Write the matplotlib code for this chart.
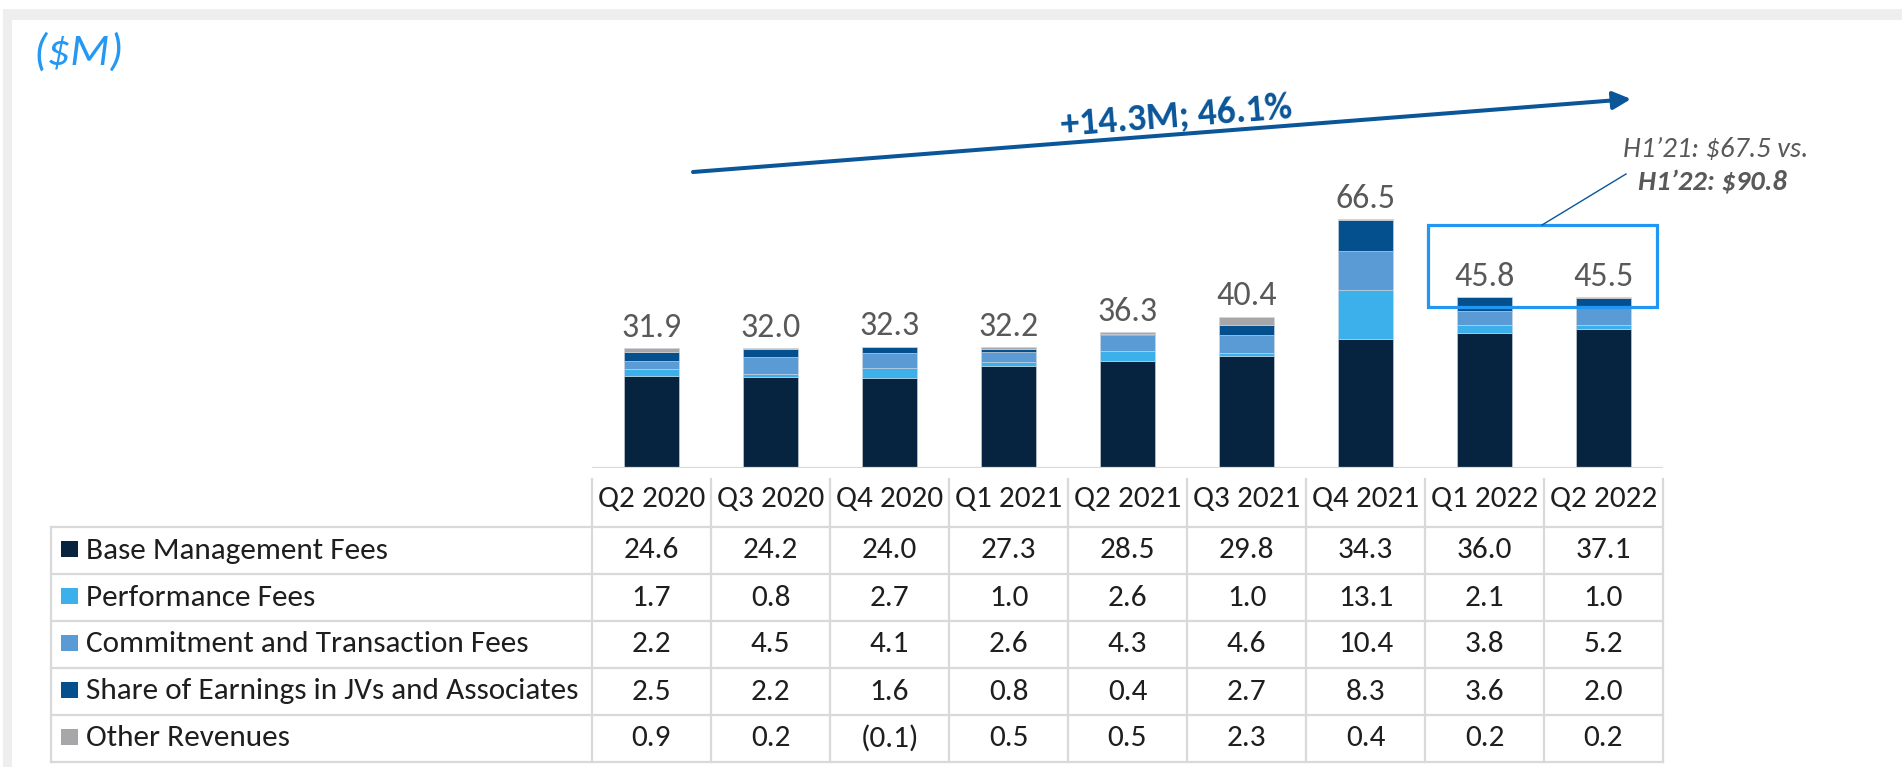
import matplotlib
matplotlib.use("Agg")
import matplotlib.pyplot as plt
from matplotlib.patches import Rectangle, FancyArrowPatch
import numpy as np

plt.rcParams['font.family'] = ['Carlito', 'DejaVu Sans']

# data
quarters = ["Q2 2020", "Q3 2020", "Q4 2020", "Q1 2021", "Q2 2021",
            "Q3 2021", "Q4 2021", "Q1 2022", "Q2 2022"]
series_names = ["Base Management Fees", "Performance Fees",
                "Commitment and Transaction Fees",
                "Share of Earnings in JVs and Associates", "Other Revenues"]
base_fees = [24.6, 24.2, 24.0, 27.3, 28.5, 29.8, 34.3, 36.0, 37.1]
perf_fees = [1.7, 0.8, 2.7, 1.0, 2.6, 1.0, 13.1, 2.1, 1.0]
commit_fees = [2.2, 4.5, 4.1, 2.6, 4.3, 4.6, 10.4, 3.8, 5.2]
jv_share = [2.5, 2.2, 1.6, 0.8, 0.4, 2.7, 8.3, 3.6, 2.0]
other_rev = [0.9, 0.2, -0.1, 0.5, 0.5, 2.3, 0.4, 0.2, 0.2]
totals = [31.9, 32.0, 32.3, 32.2, 36.3, 40.4, 66.5, 45.8, 45.5]
growth_label = "+14.3M; 46.1%"
h1_prev = "H1\u201921: \\$67.5 vs."
h1_curr = "H1\u201922: \\$90.8"

colors = ["#06243F", "#3BB0EA", "#5B9BD5", "#04508F", "#A7A7AA"]
series = [base_fees, perf_fees, commit_fees, jv_share, other_rev]

W, H = 1902, 767
fig = plt.figure(figsize=(W / 100, H / 100), dpi=100)

# background layer in pixel coords
bg = fig.add_axes([0, 0, 1, 1])
bg.set_xlim(0, W)
bg.set_ylim(H, 0)
bg.axis("off")
frame = "#EEEEEE"
bg.add_patch(Rectangle((3, 9), W - 3, 11, color=frame, lw=0))
bg.add_patch(Rectangle((3, 9), 9, H - 9, color=frame, lw=0))
bg.text(33, 65, "(\\$M)", fontsize=33, style="italic", color="#2598F3", va="baseline")

# table
grid_c = "#D9D9D9"
txt_c = "#1E1E1E"
col0 = 592
col_w = 119
n = len(quarters)
row_y = [527, 574, 621, 668, 715, 762]
bg.plot([col0, col0], [479, row_y[-1]], color=grid_c, lw=1.6)
for i in range(n):
    x = col0 + col_w * (i + 1)
    bg.plot([x, x], [479, row_y[-1]], color=grid_c, lw=1.6)
    bg.text(col0 + col_w * (i + 0.5), 507, quarters[i], fontsize=22.5,
            color=txt_c, ha="center", va="baseline")
for y in row_y:
    bg.plot([51, col0 + col_w * n], [y, y], color=grid_c, lw=1.6)
bg.plot([51, 51], [row_y[0], row_y[-1]], color=grid_c, lw=1.6)

for r, (name, vals, c) in enumerate(zip(series_names, series, colors)):
    yc = (row_y[r] + row_y[r + 1]) / 2
    bg.add_patch(Rectangle((61, yc - 10), 17, 16, color=c, lw=0))
    bg.text(86, yc + 8, name, fontsize=22.5, color=txt_c, va="baseline")
    for i, v in enumerate(vals):
        s = "({:.1f})".format(-v) if v < 0 else "{:.1f}".format(v)
        bg.text(col0 + col_w * (i + 0.5), yc + 8, s, fontsize=22.5,
                color=txt_c, ha="center", va="baseline")

# bars
ax = fig.add_axes([col0 / W, (H - 468) / H, col_w * n / W, 448 / H])
ax.patch.set_alpha(0)
x = np.arange(n)
bottom = np.zeros(n)
for vals, c in zip(series, colors):
    h = np.clip(vals, 0, None)
    ax.bar(x, h, width=0.47, bottom=bottom, color=c, edgecolor="#D0D6DD", linewidth=0.4)
    bottom += h
for i in range(n):
    ax.annotate("{:.1f}".format(totals[i]), (x[i], bottom[i]), xytext=(0, 8),
                textcoords="offset points", ha="center", va="baseline",
                fontsize=24.5, color="#595959")
ax.set_xlim(-0.5, n - 0.5)
ax.set_ylim(0, 448 / 3.749)
ax.axhline(0, color=grid_c, lw=1.6)
ax.axis("off")

# foreground annotations
fg = fig.add_axes([0, 0, 1, 1])
fg.patch.set_alpha(0)
fg.set_xlim(0, W)
fg.set_ylim(H, 0)
fg.axis("off")
arrow_c = "#0A5699"
fg.add_patch(FancyArrowPatch((693, 172), (1631, 99),
                             arrowstyle="-|>,head_length=0.6,head_width=0.3",
                             mutation_scale=18, color=arrow_c, lw=2.9,
                             shrinkA=0, shrinkB=0))
ang = np.degrees(np.arctan2(172 - 99, 1631 - 693))
fg.text(1177, 127, growth_label, fontsize=27, fontweight="bold", color=arrow_c,
        rotation=ang, rotation_mode="anchor", ha="center", va="baseline")

fg.add_patch(Rectangle((1428, 225), 229, 82, fill=False, edgecolor="#2196F3", lw=2.3))
fg.plot([1542, 1626], [225, 174], color=arrow_c, lw=1.0)
fg.text(1716, 157, h1_prev, fontsize=20.5, style="italic", color="#595959",
        ha="center", va="baseline")
fg.text(1712, 191, h1_curr, fontsize=20.5, style="italic", fontweight="bold",
        color="#595959", ha="center", va="baseline")

fig.savefig("out.png", dpi=100, facecolor="white")
